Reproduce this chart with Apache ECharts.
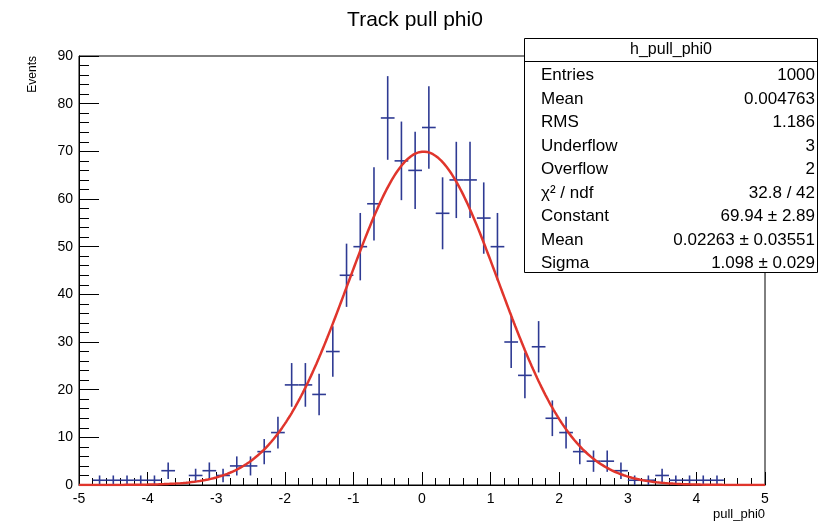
<!DOCTYPE html>
<html>
<head>
<meta charset="utf-8">
<script src="https://cdn.jsdelivr.net/npm/echarts@6/dist/echarts.min.js"></script>
<style>
html,body{margin:0;padding:0;background:#fff;}
#chart{width:831px;height:525px;}
</style>
</head>
<body>
<div id="chart"></div>
<script>
// ---- data ----
var binCenters = [-4.9,-4.7,-4.5,-4.3,-4.1,-3.9,-3.7,-3.5,-3.3,-3.1,
                  -2.9,-2.7,-2.5,-2.3,-2.1,-1.9,-1.7,-1.5,-1.3,-1.1,
                  -0.9,-0.7,-0.5,-0.3,-0.1,0.1,0.3,0.5,0.7,0.9,
                  1.1,1.3,1.5,1.7,1.9,2.1,2.3,2.5,2.7,2.9,
                  3.1,3.3,3.5,3.7,3.9,4.1,4.3,4.5,4.7,4.9];
var binCounts = [0,1,1,1,1,1,3,0,2,3,
                 2,4,4,7,11,21,21,19,28,44,
                 50,59,77,68,66,75,57,64,64,56,
                 50,30,23,29,14,11,7,5,5,3,
                 1,1,2,1,1,1,1,0,0,0];
var binWidth = 0.2;
var xTicks = [-5,-4,-3,-2,-1,0,1,2,3,4,5];
var yTicks = [0,10,20,30,40,50,60,70,80,90];
// fit parameters shown in the stats box
var fitConstant = 69.94;
var fitMean = 0.02263;
var fitSigma = 1.098;
var statsTitle = 'h_pull_phi0';
var statsLabels = ['Entries','Mean','RMS','Underflow','Overflow','\u03c7\u00b2 / ndf','Constant','Mean','Sigma'];
var statsValues = ['1000','0.004763','1.186','3','2','32.8 / 42','69.94 \u00b1 2.89','0.02263 \u00b1 0.03551','1.098 \u00b1 0.029'];

// ---- build ----
var histData = binCenters.map(function(c,i){ return [c, binCounts[i], Math.sqrt(binCounts[i])]; });
var fitData = [];
for (var k = 0; k <= 500; k++) {
  var x = xTicks[0] + k * (xTicks[xTicks.length-1] - xTicks[0]) / 500;
  var z = (x - fitMean) / fitSigma;
  fitData.push([x, fitConstant * Math.exp(-0.5 * z * z)]);
}

var FONT = '"Liberation Sans", Arial, Helvetica, sans-serif';
var chart = echarts.init(document.getElementById('chart'), null, {renderer:'canvas'});

var graphics = [
  {type:'text', x:415, y:20, style:{text:'Track pull phi0', fontSize:21, fontFamily:FONT, fill:'#000', align:'center', verticalAlign:'middle'}},
  {type:'text', x:33, y:56, rotation:Math.PI/2, style:{text:'Events', fontSize:12, fontFamily:FONT, fill:'#000', align:'right', verticalAlign:'middle'}},
  {type:'text', x:765, y:514, style:{text:'pull_phi0', fontSize:13, fontFamily:FONT, fill:'#000', align:'right', verticalAlign:'middle'}},
  {type:'rect', shape:{x:524.5, y:38.5, width:293, height:234}, style:{fill:'#fff', stroke:'#000', lineWidth:1}, z:10},
  {type:'line', shape:{x1:524.5, y1:61.5, x2:817.5, y2:61.5}, style:{stroke:'#000', lineWidth:1}, z:11},
  {type:'text', x:671, y:50, style:{text:statsTitle, fontSize:16, fontFamily:FONT, fill:'#000', align:'center', verticalAlign:'middle'}, z:11}
];
statsLabels.forEach(function(l,i){
  var yy = 75.5 + i*23.5;
  graphics.push({type:'text', x:541, y:yy, style:{text:l, fontSize:17, fontFamily:FONT, fill:'#000', align:'left', verticalAlign:'middle'}, z:11});
  graphics.push({type:'text', x:815, y:yy, style:{text:statsValues[i], fontSize:17, fontFamily:FONT, fill:'#000', align:'right', verticalAlign:'middle'}, z:11});
});

var option = {
  backgroundColor:'#fff',
  animation:false,
  grid:{left:79, right:66, top:56, bottom:40, show:true, borderColor:'#000', borderWidth:1, backgroundColor:'transparent'},
  xAxis:{
    type:'value', min:xTicks[0], max:xTicks[xTicks.length-1], interval:1,
    axisLine:{onZero:false, lineStyle:{color:'#000', width:1}},
    axisTick:{inside:true, length:13, lineStyle:{color:'#000'}},
    minorTick:{show:true, splitNumber:5, length:7, lineStyle:{color:'#000'}},
    splitLine:{show:false},
    axisLabel:{fontSize:14, fontFamily:FONT, color:'#000', margin:7}
  },
  yAxis:{
    type:'value', min:yTicks[0], max:yTicks[yTicks.length-1], interval:10,
    axisLine:{show:true, onZero:false, lineStyle:{color:'#000', width:1}},
    axisTick:{show:true, inside:true, length:20, lineStyle:{color:'#000'}},
    minorTick:{show:true, splitNumber:5, length:10, lineStyle:{color:'#000'}},
    splitLine:{show:false},
    axisLabel:{fontSize:14, fontFamily:FONT, color:'#000', margin:6}
  },
  series:[
    {
      type:'custom', name:'hist', data:histData, z:2,
      clip:true,
      renderItem:function(params, api){
        var c = api.value(0), v = api.value(1), e = api.value(2);
        if (v <= 0) return null;
        var l = api.coord([c - binWidth/2, v]);
        var r = api.coord([c + binWidth/2, v]);
        var t = api.coord([c, v + e]);
        var b = api.coord([c, v - e]);
        var st = {stroke:'#2e3a93', lineWidth:1.6};
        return {type:'group', children:[
          {type:'line', shape:{x1:l[0], y1:l[1], x2:r[0], y2:r[1]}, style:st},
          {type:'line', shape:{x1:t[0], y1:t[1], x2:b[0], y2:b[1]}, style:st}
        ]};
      }
    },
    {
      type:'line', name:'fit', data:fitData, showSymbol:false, smooth:false, z:3,
      lineStyle:{color:'#e0352c', width:2.5}, itemStyle:{color:'#e0352c'}
    }
  ],
  graphic:graphics
};
chart.setOption(option);
</script>
</body>
</html>
